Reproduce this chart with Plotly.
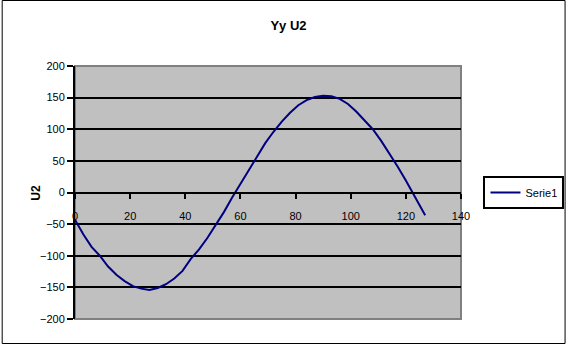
import plotly.graph_objects as go

x_vals = [0, 3, 6, 9, 12, 15, 18, 21, 24, 27, 30, 33, 36, 39, 42, 45, 48, 51, 54, 57,
          60, 63, 66, 69, 72, 75, 78, 81, 84, 87, 90, 93, 96, 99, 102, 105, 108, 111,
          114, 117, 120, 123, 126, 127]
u2_vals = [-43, -66, -86, -100, -117, -130, -140, -148, -152, -154, -151, -145, -136, -124,
           -105, -90, -72, -52, -31, -8, 14, 36, 57, 78, 96, 112, 126, 138, 146, 151, 153,
           152, 148, 140, 128, 114, 100, 82, 62, 41, 19, -4, -28, -36]
series_name = "Serie1"
chart_title = "Yy U2"
y_title = "U2"
x_ticks = [0, 20, 40, 60, 80, 100, 120, 140]
y_ticks = [-200, -150, -100, -50, 0, 50, 100, 150, 200]

FONT = "Liberation Sans, Arial, sans-serif"
L, R, T, B = 75, 107, 66, 26
W, H = 577, 345
pw, ph = W - L - R, H - T - B

fig = go.Figure()
fig.add_trace(go.Scatter(x=x_vals, y=u2_vals, mode="lines", name=series_name,
                         line=dict(color="#000080", width=2)))

fig.update_layout(
    width=W, height=H,
    margin=dict(l=L, r=R, t=T, b=B),
    paper_bgcolor="white",
    plot_bgcolor="#C0C0C0",
    font=dict(family=FONT, size=11, color="black"),
    title=dict(text="<b>" + chart_title + "</b>", x=0.5, xref="container",
               y=1 - 25 / H, yref="container", yanchor="middle", xanchor="center",
               font=dict(size=13, family=FONT, color="black")),
    xaxis=dict(range=[0, 140], tickvals=x_ticks, showgrid=False, zeroline=False,
               showline=True, linecolor="black", linewidth=2,
               ticks="outside", ticklen=5, tickcolor="black", tickwidth=2,
               anchor="free", position=0.5, side="bottom", ticklabelstandoff=8,
               tickfont=dict(size=11, family=FONT)),
    yaxis=dict(range=[-200, 200], tickvals=y_ticks, showgrid=True, gridcolor="black",
               gridwidth=2, zeroline=False, showline=True, linecolor="black", linewidth=2,
               ticks="outside", ticklen=6, tickcolor="black", tickwidth=2,
               tickfont=dict(size=11, family=FONT)),
    legend=dict(x=(493 - L) / pw, xanchor="left", y=0.5, yanchor="middle",
                bordercolor="black", borderwidth=2, bgcolor="white",
                font=dict(size=11, family=FONT), itemwidth=30),
    showlegend=True,
)

# plot area border (gray)
fig.add_shape(type="rect", xref="paper", yref="paper", x0=0, x1=1, y0=0, y1=1,
              line=dict(color="#808080", width=2), layer="below")
# outer figure border
fig.add_shape(type="rect", xref="paper", yref="paper",
              x0=(0.5 - L) / pw, x1=(W - 0.5 - L) / pw,
              y0=(H - T - ph - (H - 0.5 - T - ph)) / ph - (H - T - ph - 0.5 - (H - T - ph)) / ph - (B - 0.5) / ph + 0,
              y1=(ph + T - 0.5) / ph,
              line=dict(color="black", width=1))

fig.add_annotation(text="<b>" + y_title + "</b>", xref="paper", yref="paper",
                   x=(25 - L) / pw, y=0.5, textangle=-90, showarrow=False,
                   font=dict(size=12, family=FONT, color="black"))

fig.write_html("out.html")
